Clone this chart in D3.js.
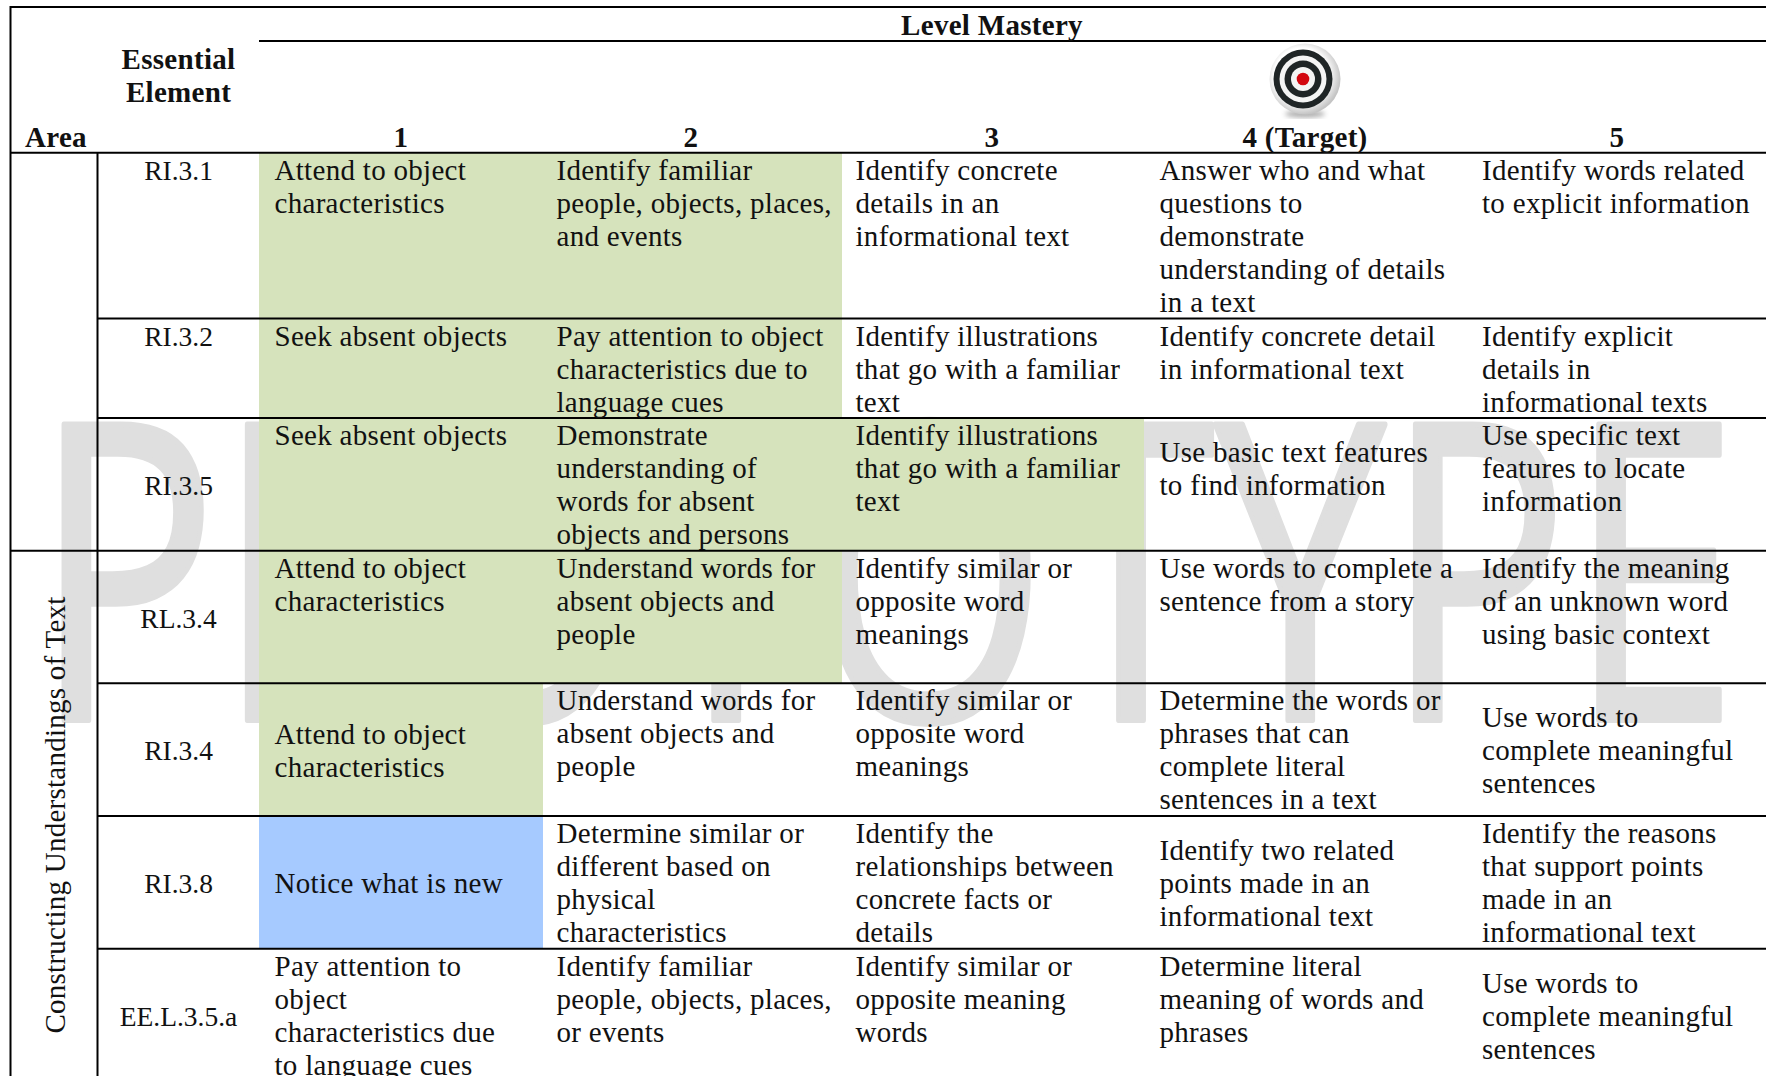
<!DOCTYPE html>
<html>
<head>
<meta charset="utf-8">
<script src="https://cdn.jsdelivr.net/npm/d3@7/dist/d3.min.js"></script>
<style>
  html, body { margin: 0; background: #fff; overflow: hidden; }
  text { font-family: "Liberation Serif", serif; fill: #111; }
  .head { font-weight: bold; font-size: 29px; letter-spacing: .3px; }
  .cell { font-size: 29px; letter-spacing: .3px; }
  .elem { font-size: 27.5px; }
</style>
</head>
<body>
<svg width="1766" height="1076"></svg>
<script>
var levels = ["1", "2", "3", "4 (Target)", "5"];
var elements = ["RI.3.1", "RI.3.2", "RI.3.5", "RL.3.4", "RI.3.4", "RI.3.8", "EE.L.3.5.a"];
var rowLines = [5, 3, 4, 4, 4, 4, 4];
var elementAlign = ["t", "t", "m", "m", "m", "m", "m"];

var cells = [
  [["Attend to object", "characteristics"],
   ["Identify familiar", "people, objects, places,", "and events"],
   ["Identify concrete", "details in an", "informational text"],
   ["Answer who and what", "questions to", "demonstrate", "understanding of details", "in a text"],
   ["Identify words related", "to explicit information"]],
  [["Seek absent objects"],
   ["Pay attention to object", "characteristics due to", "language cues"],
   ["Identify illustrations", "that go with a familiar", "text"],
   ["Identify concrete detail", "in informational text"],
   ["Identify explicit", "details in", "informational texts"]],
  [["Seek absent objects"],
   ["Demonstrate", "understanding of", "words for absent", "objects and persons"],
   ["Identify illustrations", "that go with a familiar", "text"],
   ["Use basic text features", "to find information", ""],
   ["Use specific text", "features to locate", "information"]],
  [["Attend to object", "characteristics"],
   ["Understand words for", "absent objects and", "people"],
   ["Identify similar or", "opposite word", "meanings"],
   ["Use words to complete a", "sentence from a story"],
   ["Identify the meaning", "of an unknown word", "using basic context"]],
  [["Attend to object", "characteristics"],
   ["Understand words for", "absent objects and", "people"],
   ["Identify similar or", "opposite word", "meanings"],
   ["Determine the words or", "phrases that can", "complete literal", "sentences in a text"],
   ["Use words to", "complete meaningful", "sentences"]],
  [["Notice what is new"],
   ["Determine similar or", "different based on", "physical", "characteristics"],
   ["Identify the", "relationships between", "concrete facts or", "details"],
   ["Identify two related", "points made in an", "informational text"],
   ["Identify the reasons", "that support points", "made in an", "informational text"]],
  [["Pay attention to", "object", "characteristics due", "to language cues"],
   ["Identify familiar", "people, objects, places,", "or events"],
   ["Identify similar or", "opposite meaning", "words"],
   ["Determine literal", "meaning of words and", "phrases"],
   ["Use words to", "complete meaningful", "sentences"]]
];

var cellAlign = [
  ["t", "t", "t", "t", "t"],
  ["t", "t", "t", "t", "t"],
  ["t", "t", "t", "m", "t"],
  ["t", "t", "t", "t", "t"],
  ["m", "t", "t", "t", "m"],
  ["m", "t", "t", "m", "t"],
  ["t", "t", "t", "t", "m"]
];

// g = met, b = emerging, "" = no shading
var cellShade = [
  ["g", "g", "", "", ""],
  ["g", "g", "", "", ""],
  ["g", "g", "g", "", ""],
  ["g", "g", "", "", ""],
  ["g", "", "", "", ""],
  ["b", "", "", "", ""],
  ["", "", "", "", ""]
];

var svg = d3.select("svg"),
    width = +svg.attr("width"),
    height = +svg.attr("height");

var colX = [259, 543, 842, 1144, 1467, width],
    textX = [274.5, 556.5, 855.5, 1159.5, 1482],
    colCenter = [401, 691, 992, 1305, 1617],
    lineH = 33;

// rows are sized in text lines, so one scale places all of them
var y = d3.scaleLinear().domain([0, 24]).range([152.7, 948.7]);
var rowStart = d3.cumsum([0].concat(rowLines));

var shade = d3.scaleOrdinal().domain(["g", "b"]).range(["#d6e3bc", "#a6caff"]);

// watermark sits behind everything
svg.append("text")
    .attr("transform", "translate(34,720) scale(.736,1)")
    .style("font-family", "'Open Sans', sans-serif")
    .style("font-size", "414px")
    .style("fill", "#dfdfdf")
    .style("stroke", "#dfdfdf")
    .style("stroke-width", 6)
    .style("stroke-linejoin", "round")
    .text("PROTOTYPE");

// shaded cells
cellShade.forEach(function(row, r) {
  row.forEach(function(s, c) {
    if (!s) return;
    svg.append("rect")
      .attr("x", colX[c])
      .attr("y", y(rowStart[r]))
      .attr("width", colX[c + 1] - colX[c])
      .attr("height", y(rowStart[r + 1]) - y(rowStart[r]))
      .attr("fill", shade(s));
  });
});

// rules
function rule(x1, y1, x2, y2) {
  svg.append("line")
    .attr("x1", x1).attr("y1", y1).attr("x2", x2).attr("y2", y2)
    .attr("stroke", "#000").attr("stroke-width", 2);
}
rule(10, 7, width, 7);
rule(259, 41, width, 41);
rule(10.5, 6, 10.5, height);
rule(97.5, y(0), 97.5, height);
rule(10, y(0), width, y(0));
rowStart.slice(1, 7).forEach(function(s, i) {
  rule(i == 2 ? 10 : 97.5, y(s), width, y(s));
});

// header
function head(t, x, yy, anchor) {
  svg.append("text").attr("class", "head")
    .attr("x", x).attr("y", yy)
    .attr("text-anchor", anchor || "middle")
    .text(t);
}
head("Level Mastery", 992, 34.5);
head("Essential", 178.5, 69);
head("Element", 178.5, 102);
head("Area", 25, 147, "start");
levels.forEach(function(l, i) { head(l, colCenter[i], 147); });

svg.append("text").attr("class", "cell")
    .attr("transform", "translate(65,815) rotate(-90)")
    .attr("text-anchor", "middle")
    .style("letter-spacing", ".25px")
    .text("Constructing Understandings of Text");

// body text
function block(lines, x, r, align, anchor, cls) {
  var top = y(rowStart[r]),
      rowH = y(rowStart[r + 1]) - top,
      start = align == "m" ? top + (rowH - lines.length * lineH) / 2 : top;
  svg.append("g")
    .selectAll("text")
    .data(lines)
    .enter().append("text")
    .attr("class", cls)
    .attr("x", x)
    .attr("y", function(d, i) { return start + 27 + i * lineH; })
    .attr("text-anchor", anchor)
    .text(function(d) { return d; });
}

elements.forEach(function(e, r) { block([e], 178.5, r, elementAlign[r], "middle", "elem"); });
cells.forEach(function(row, r) {
  row.forEach(function(lines, c) { block(lines, textX[c], r, cellAlign[r][c], "start", "cell"); });
});

// bullseye icon
var defs = svg.append("defs");
var disk = defs.append("radialGradient").attr("id", "disk").attr("cx", "45%").attr("cy", "45%").attr("r", "55%");
disk.append("stop").attr("offset", "70%").attr("stop-color", "#fff");
disk.append("stop").attr("offset", "100%").attr("stop-color", "#c4c4c4");
defs.append("filter").attr("id", "soft").append("feGaussianBlur").attr("stdDeviation", 2.5);

var icon = svg.append("g");
icon.append("ellipse").attr("cx", 1305).attr("cy", 114).attr("rx", 20).attr("ry", 3.5)
    .attr("fill", "#aaa").attr("filter", "url(#soft)");
icon.append("circle").attr("cx", 1305).attr("cy", 79).attr("r", 35.5).attr("fill", "url(#disk)");
[[29.5, "#1f2526"], [23.5, "#f4f4f4"], [18.5, "#1f2526"], [12, "#f4f4f4"], [6.3, "#d3070f"]].forEach(function(d) {
  icon.append("circle").attr("cx", 1303).attr("cy", 79).attr("r", d[0]).attr("fill", d[1]);
});
</script>
</body>
</html>
